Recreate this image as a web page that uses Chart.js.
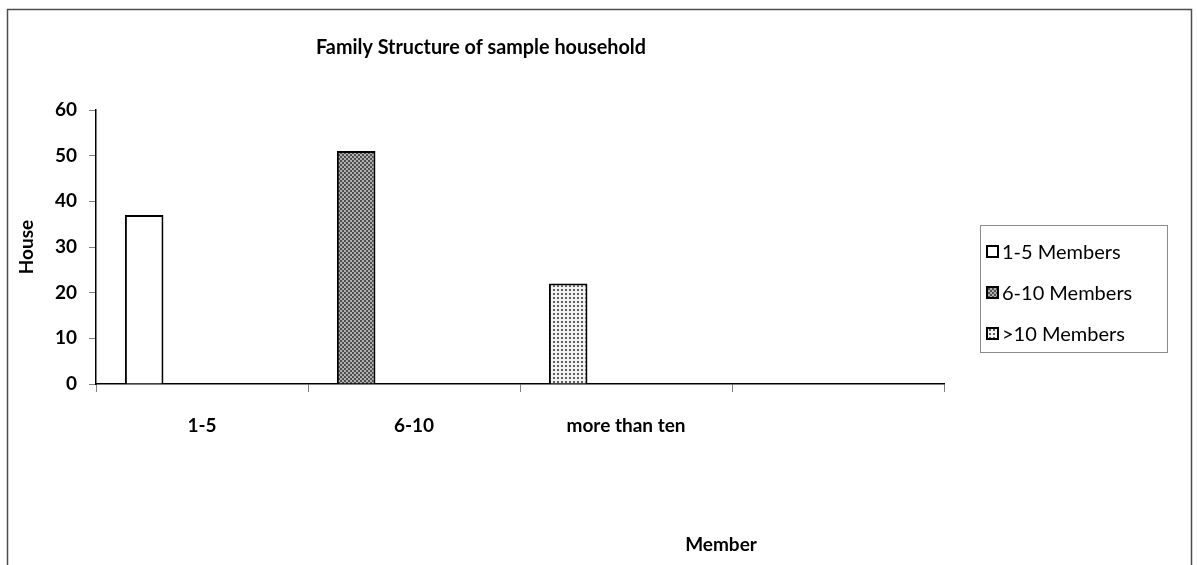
<!DOCTYPE html>
<html>
<head>
<meta charset="utf-8">
<script src="https://cdn.jsdelivr.net/npm/chart.js@4"></script>
<style>
  html, body { margin: 0; padding: 0; background: #fff; }
  #wrap { width: 1197px; height: 565px; position: relative; }
</style>
</head>
<body>
<div id="wrap"><canvas id="familyChart"></canvas></div>
<script>
// Household size groups and counts
const categories = ['1-5', '6-10', 'more than ten', ''];
const seriesLabels = ['1-5 Members', '6-10 Members', '>10 Members'];
const oneToFive = [37, null, null, null];
const sixToTen = [null, 51, null, null];
const moreThanTen = [null, null, 22, null];
const yTicks = [0, 10, 20, 30, 40, 50, 60];

const FONT = 'Lato, "Open Sans", sans-serif';

// Fill patterns for the bars
function checkerPattern() {
  const c = document.createElement('canvas');
  c.width = 4; c.height = 4;
  const g = c.getContext('2d');
  g.fillStyle = '#b0b0b0';
  g.fillRect(0, 0, 4, 4);
  g.fillStyle = '#4e4e4e';
  g.fillRect(0, 0, 2, 2);
  g.fillRect(2, 2, 2, 2);
  return g.createPattern(c, 'repeat');
}
function dotPattern() {
  const c = document.createElement('canvas');
  c.width = 4; c.height = 4;
  const g = c.getContext('2d');
  g.fillStyle = '#f2f2f2';
  g.fillRect(0, 0, 4, 4);
  g.fillStyle = '#5e5e5e';
  g.fillRect(1, 1, 2, 2);
  return g.createPattern(c, 'repeat');
}
const fills = ['#ffffff', checkerPattern(), dotPattern()];

// outer frame, title, x axis title and legend box
const decorations = {
  id: 'decorations',
  beforeDraw(chart) {
    const ctx = chart.ctx;
    ctx.save();
    ctx.fillStyle = '#fff';
    ctx.fillRect(0, 0, chart.width, chart.height);
    ctx.strokeStyle = '#4d4d4d';
    ctx.lineWidth = 1.5;
    ctx.beginPath();
    ctx.moveTo(7.5, chart.height + 2);
    ctx.lineTo(7.5, 9.5);
    ctx.lineTo(1191.5, 9.5);
    ctx.lineTo(1191.5, chart.height + 2);
    ctx.stroke();
    ctx.restore();
  },
  afterDraw(chart) {
    const ctx = chart.ctx;
    ctx.save();
    ctx.fillStyle = '#000';
    ctx.textAlign = 'center';
    ctx.textBaseline = 'middle';
    ctx.font = 'bold 21px ' + FONT;
    ctx.fillText('Family Structure of sample household', 481, 47, 330);
    ctx.font = 'bold 19px ' + FONT;
    ctx.fillText('Member', 721, 545);

    // legend
    ctx.strokeStyle = '#8c8c8c';
    ctx.lineWidth = 1;
    ctx.strokeRect(980.5, 225.5, 187, 127);
    ctx.textAlign = 'left';
    ctx.font = '20px ' + FONT;
    seriesLabels.forEach((label, i) => {
      const y = 252 + i * 41;
      ctx.fillStyle = fills[i];
      ctx.fillRect(987, y - 6, 11, 11);
      ctx.strokeStyle = '#000';
      ctx.lineWidth = 2;
      ctx.strokeRect(987, y - 6, 11, 11);
      ctx.fillStyle = '#000';
      ctx.fillText(label, 1002, y + 1);
    });
    ctx.restore();
  }
};

const series = [oneToFive, sixToTen, moreThanTen];
const datasets = series.map((data, i) => ({
  label: seriesLabels[i],
  data: data,
  stack: 'members',
  backgroundColor: fills[i],
  borderColor: '#000',
  borderWidth: 2
}));
// three empty stacks keep the bars in the first slot of each group
['a', 'b', 'c'].forEach(s => datasets.push({ label: '', data: [], stack: s }));

new Chart(document.getElementById('familyChart'), {
  type: 'bar',
  data: { labels: categories, datasets: datasets },
  options: {
    responsive: true,
    maintainAspectRatio: false,
    animation: false,
    categoryPercentage: 4 / 5.5,
    barPercentage: 1,
    layout: { padding: { top: 110, right: 253, left: 0, bottom: 0 } },
    plugins: {
      legend: { display: false },
      title: { display: false },
      tooltip: { enabled: false }
    },
    scales: {
      x: {
        stacked: true,
        afterFit: scale => { scale.height = 565 - 384; },
        grid: { drawOnChartArea: false, tickLength: 8, tickColor: '#808080' },
        border: { color: '#000', width: 1.5 },
        ticks: {
          color: '#000',
          font: { family: FONT, size: 19, weight: 'bold' },
          padding: 22,
          maxRotation: 0
        }
      },
      y: {
        stacked: true,
        min: 0,
        max: 60,
        afterFit: scale => { scale.width = 96; },
        afterBuildTicks: scale => { scale.ticks = yTicks.map(v => ({ value: v })); },
        grid: { drawOnChartArea: false, tickLength: 7, tickColor: '#808080' },
        border: { color: '#000', width: 1.5 },
        ticks: {
          color: '#000',
          font: { family: FONT, size: 19, weight: 'bold' },
          padding: 12
        },
        title: {
          display: true,
          text: 'House',
          color: '#000',
          font: { family: FONT, size: 19, weight: 'bold' },
          padding: { top: 15, bottom: 0 }
        }
      }
    }
  },
  plugins: [decorations]
});
</script>
</body>
</html>
